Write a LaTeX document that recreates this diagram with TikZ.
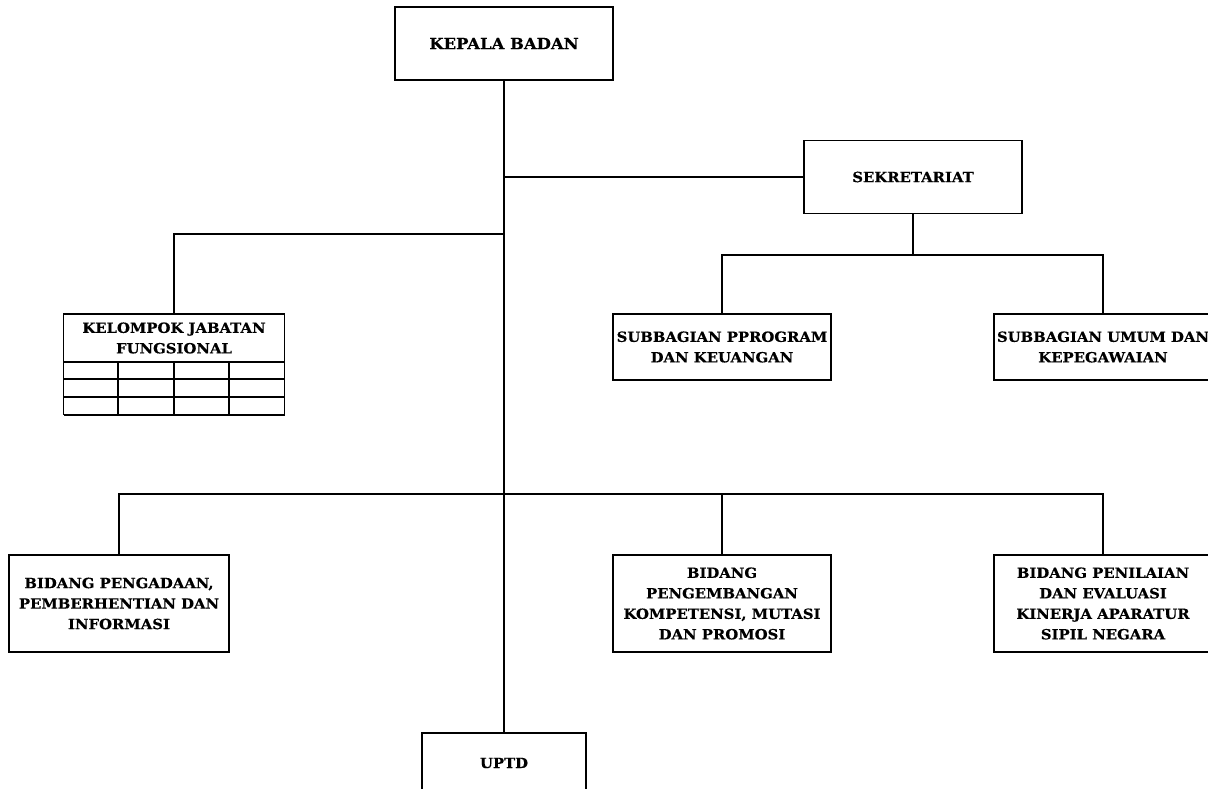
\documentclass[tikz,border=0pt]{standalone}
\usepackage{fontspec}
\setmainfont{DejaVu Serif}[FakeStretch=1.06, BoldFeatures={FakeBold=0.4}]
\begin{document}
\begin{tikzpicture}[x=1pt,y=-1pt,
  box/.style={draw, line width=1.8pt, align=center, inner sep=1pt,
    font=\fontsize{14}{20.5}\selectfont\bfseries},
  conn/.style={line width=1.8pt}]
\useasboundingbox (0,0) rectangle (1208,789);
\clip (0,0) rectangle (1208,789);
% head and secretariat
\node[box, minimum width=218, minimum height=73,
  font=\fontsize{15.5}{20.5}\selectfont\bfseries] (kb) at (504,43.5) {KEPALA BADAN};
\node[box, minimum width=218, minimum height=73] (sek) at (913,177) {SEKRETARIAT};
\node[box, minimum width=218, minimum height=66] (spp) at (722,347) {SUBBAGIAN PPROGRAM\\DAN KEUANGAN};
\node[box, minimum width=218, minimum height=66] (sum) at (1103,347) {SUBBAGIAN UMUM DAN\\KEPEGAWAIAN};
% functional group with its grid
\node[box, minimum width=221, minimum height=48] (kjf) at (174,338) {KELOMPOK JABATAN\\FUNGSIONAL};
\foreach \yy in {379,397,415} \draw[conn] (63.5,\yy) -- (284.5,\yy);
\foreach \xx in {63.5,118,174,229,284.5} \draw[conn] (\xx,362) -- (\xx,415);
% divisions
\node[box, minimum width=220, minimum height=97] (b1) at (119,603.5) {BIDANG PENGADAAN,\\PEMBERHENTIAN DAN\\INFORMASI};
\node[box, minimum width=218, minimum height=97] (b2) at (722,603.5) {BIDANG\\PENGEMBANGAN\\KOMPETENSI, MUTASI\\DAN PROMOSI};
\node[box, minimum width=218, minimum height=97] (b3) at (1103,603.5) {BIDANG PENILAIAN\\DAN EVALUASI\\KINERJA APARATUR\\SIPIL NEGARA};
\node[box, minimum width=164, minimum height=60] (uptd) at (504,763) {UPTD};
% junctions
\coordinate (jk) at (504,234);
\coordinate (js) at (913,255);
\coordinate (jb) at (504,494);
% connectors
\draw[conn] (kb.south) -- (uptd.north);
\draw[conn] (sek.west) -- (sek.west -| kb.south);
\draw[conn] (kjf.north) |- (jk);
\draw[conn] (sek.south) -- (js);
\draw[conn] (spp.north) |- (js) -| (sum.north);
\draw[conn] (b1.north) |- (jb) -| (b3.north);
\draw[conn] (b2.north) -- (b2.north |- jb);
\end{tikzpicture}
\end{document}
